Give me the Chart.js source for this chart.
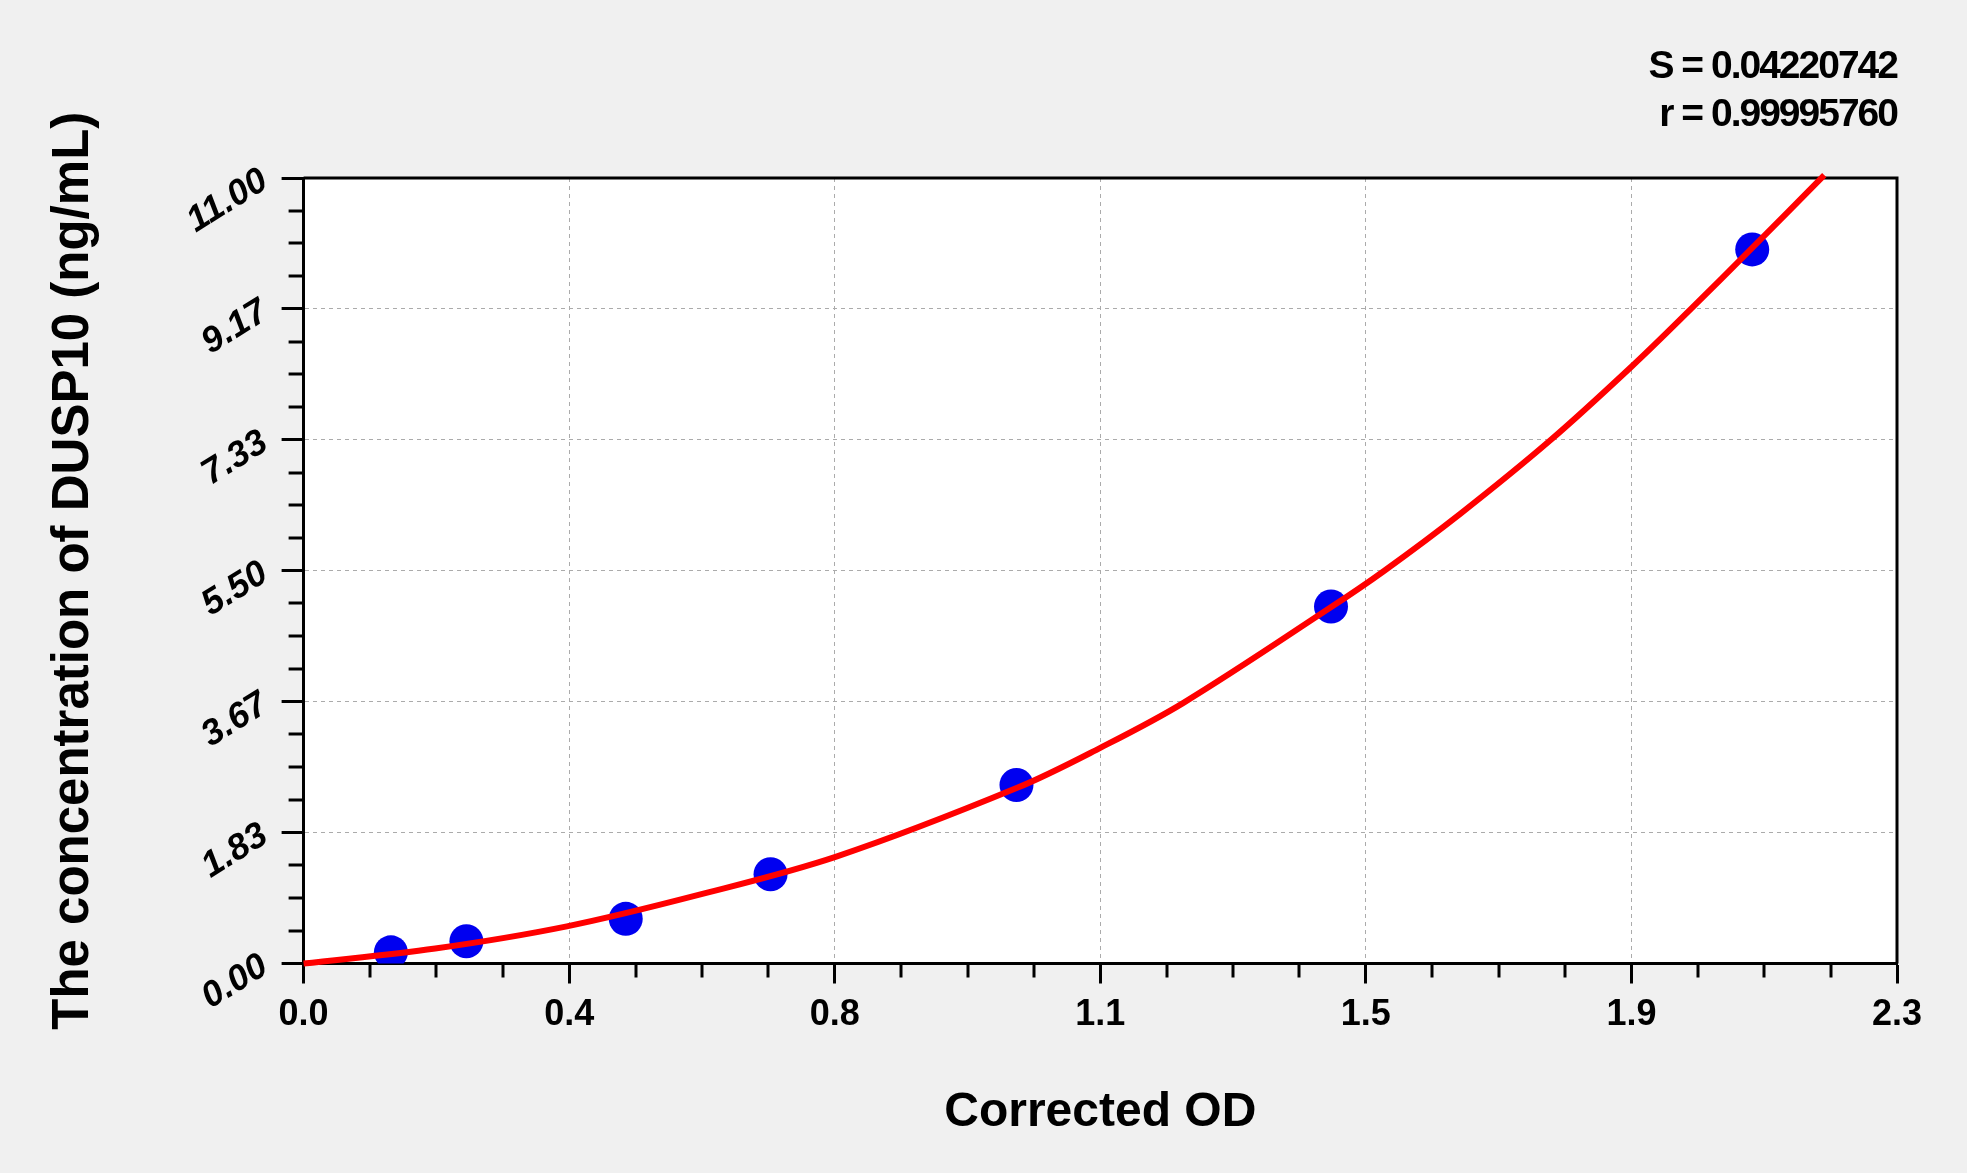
<!DOCTYPE html>
<html>
<head>
<meta charset="utf-8">
<script src="https://cdn.jsdelivr.net/npm/chart.js@4.4.1/dist/chart.umd.min.js"></script>
<style>
  html, body { margin: 0; padding: 0; background: #f0f0f0; }
  #wrap { width: 1967px; height: 1173px; }
</style>
</head>
<body>
<div id="wrap"><canvas id="c" width="1967" height="1173"></canvas></div>
<script>
// ---- data ----
const stdOD   = [0.126, 0.235, 0.465, 0.674, 1.029, 1.483, 2.091];
const stdConc = [0.156, 0.312, 0.625, 1.25, 2.5, 5, 10];
const curveOD   = [0, 0.19, 0.38, 0.57, 0.77, 1.03, 1.15, 1.27, 1.48, 1.56, 1.67, 1.80, 1.917, 2.003, 2.091, 2.195];
const curveConc = [0, 0.21, 0.52, 0.96, 1.50, 2.46, 3.02, 3.65, 4.97, 5.50, 6.30, 7.33, 8.36, 9.17, 10.02, 11.04];
const xTickValues = [0, 0.38333, 0.76667, 1.15, 1.53333, 1.91667, 2.3];
const xTickLabels = ['0.0', '0.4', '0.8', '1.1', '1.5', '1.9', '2.3'];
const yTickValues = [0, 1.83333, 3.66667, 5.5, 7.33333, 9.16667, 11];
const yTickLabels = ['0.00', '1.83', '3.67', '5.50', '7.33', '9.17', '11.00'];
const statLines = ['S = 0.04220742', 'r = 0.99995760'];
const xTitle = 'Corrected OD';
const yTitle = 'The concentration of DUSP10 (ng/mL)';

const FONT = "'Liberation Sans', Arial, sans-serif";

const framePlugin = {
  id: 'frame',
  beforeDraw(chart) {
    const {ctx, chartArea: a} = chart;
    ctx.save();
    ctx.fillStyle = '#f0f0f0';
    ctx.fillRect(0, 0, chart.width, chart.height);
    ctx.fillStyle = '#ffffff';
    ctx.fillRect(a.left, a.top, a.right - a.left, a.bottom - a.top);
    ctx.restore();
  },
  beforeDatasetsDraw(chart) {
    const {ctx, chartArea: a} = chart;
    ctx.save();
    ctx.strokeStyle = '#000';
    ctx.lineWidth = 3;
    ctx.beginPath();
    ctx.moveTo(a.left, a.top);
    ctx.lineTo(a.right, a.top);
    ctx.lineTo(a.right, a.bottom);
    ctx.stroke();
    ctx.restore();
  },
  afterDraw(chart) {
    const {ctx, chartArea: a} = chart;
    const xs = chart.scales.x, ys = chart.scales.y;
    ctx.save();
    ctx.strokeStyle = '#000';
    ctx.lineWidth = 3;
    ctx.beginPath();
    for (let i = 0; i < xTickValues.length - 1; i++) {
      const step = (xTickValues[i + 1] - xTickValues[i]) / 4;
      for (let k = 1; k < 4; k++) {
        const px = Math.round(xs.getPixelForValue(xTickValues[i] + k * step));
        ctx.moveTo(px, a.bottom);
        ctx.lineTo(px, a.bottom + 14);
      }
    }
    for (let i = 0; i < yTickValues.length - 1; i++) {
      const step = (yTickValues[i + 1] - yTickValues[i]) / 4;
      for (let k = 1; k < 4; k++) {
        const py = Math.round(ys.getPixelForValue(yTickValues[i] + k * step));
        ctx.moveTo(a.left, py);
        ctx.lineTo(a.left - 15, py);
      }
    }
    ctx.stroke();
    // statistics text
    ctx.fillStyle = '#000';
    ctx.font = "bold 39px " + FONT;
    ctx.textAlign = 'right';
    ctx.textBaseline = 'alphabetic';
    try { ctx.letterSpacing = '-2px'; } catch (e) {}
    ctx.fillText(statLines[0], a.right, 78);
    ctx.fillText(statLines[1], a.right, 126);
    ctx.restore();
  }
};

new Chart(document.getElementById('c'), {
  type: 'scatter',
  data: {
    datasets: [
      {
        label: 'fit',
        data: curveOD.map((x, i) => ({x: x, y: curveConc[i]})),
        showLine: true,
        borderColor: '#ff0000',
        borderWidth: 6,
        pointRadius: 0,
        pointHoverRadius: 0,
        tension: 0.35,
        clip: false,
        order: 0
      },
      {
        label: 'standards',
        data: stdOD.map((x, i) => ({x: x, y: stdConc[i]})),
        backgroundColor: '#0000f0',
        borderColor: '#0000f0',
        borderWidth: 0,
        pointRadius: 17,
        pointHoverRadius: 17,
        order: 1
      }
    ]
  },
  options: {
    responsive: false,
    animation: false,
    devicePixelRatio: 1,
    layout: { padding: { left: 43, right: 70, top: 178, bottom: 31 } },
    plugins: { legend: { display: false }, tooltip: { enabled: false } },
    scales: {
      x: {
        type: 'linear',
        position: 'bottom',
        min: 0, max: 2.3,
        afterBuildTicks: (s) => { s.ticks = xTickValues.map(v => ({value: v})); },
        afterFit: (s) => { s.height = 178.5; },
        ticks: {
          color: '#000',
          padding: 10,
          maxRotation: 0,
          font: { family: FONT, size: 36, weight: 'bold' },
          callback: (v, i) => xTickLabels[i]
        },
        grid: {
          color: '#ababab',
          lineWidth: 1,
          tickLength: 20,
          tickWidth: 3,
          tickColor: '#000',
          tickBorderDash: []
        },
        border: { display: true, color: '#000', width: 3, dash: [4, 4] },
        title: {
          display: true,
          text: xTitle,
          color: '#000',
          padding: 0,
          font: { family: FONT, size: 48, weight: 'bold' }
        }
      },
      y: {
        type: 'linear',
        position: 'left',
        min: 0, max: 11,
        afterBuildTicks: (s) => { s.ticks = yTickValues.map(v => ({value: v})); },
        afterFit: (s) => { s.width = 260.6; },
        ticks: {
          color: '#000',
          padding: 17,
          minRotation: 32,
          maxRotation: 32,
          font: { family: FONT, size: 36, weight: 'bold', style: 'italic' },
          callback: (v, i) => yTickLabels[i]
        },
        grid: {
          color: '#ababab',
          lineWidth: 1,
          tickLength: 22,
          tickWidth: 3,
          tickColor: '#000',
          tickBorderDash: []
        },
        border: { display: true, color: '#000', width: 3, dash: [4, 4] },
        title: {
          display: true,
          text: yTitle,
          color: '#000',
          padding: 0,
          font: { family: FONT, size: 51, weight: 'bold' }
        }
      }
    }
  },
  plugins: [framePlugin]
});
</script>
</body>
</html>
